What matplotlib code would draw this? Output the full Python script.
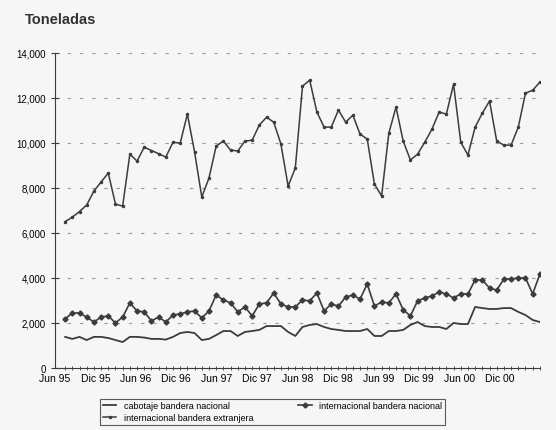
import matplotlib.pyplot as plt
import numpy as np

# meses Jun 95 - Dic 00 (67 meses)
etiquetas = ['Jun 95', 'Dic 95', 'Jun 96', 'Dic 96', 'Jun 97', 'Dic 97',
             'Jun 98', 'Dic 98', 'Jun 99', 'Dic 99', 'Jun 00', 'Dic 00']

cabotaje_nacional = [1380, 1290, 1380, 1240, 1380, 1380, 1330, 1240, 1150, 1380,
                     1380, 1350, 1290, 1290, 1260, 1380, 1550, 1600, 1550, 1240,
                     1290, 1460, 1640, 1640, 1420, 1600, 1640, 1690, 1860, 1860,
                     1860, 1600, 1420, 1820, 1910, 1950, 1820, 1730, 1690, 1640,
                     1640, 1640, 1730, 1420, 1420, 1640, 1640, 1690, 1910, 2040,
                     1860, 1820, 1820, 1730, 2000, 1950, 1950, 2710, 2660, 2620,
                     2620, 2660, 2660, 2490, 2350, 2130, 2040]

internacional_nacional = [2180, 2440, 2440, 2260, 2040, 2260, 2310, 2000, 2260, 2890,
                          2530, 2490, 2090, 2260, 2040, 2350, 2400, 2490, 2530, 2220,
                          2530, 3240, 3020, 2890, 2490, 2710, 2310, 2840, 2890, 3330,
                          2840, 2710, 2710, 3020, 2980, 3330, 2530, 2840, 2750, 3150,
                          3240, 3060, 3730, 2750, 2930, 2890, 3290, 2580, 2310, 2980,
                          3110, 3200, 3370, 3290, 3110, 3290, 3290, 3910, 3910, 3550,
                          3460, 3950, 3950, 4000, 4000, 3290, 4170]

internacional_extranjera = [6500, 6700, 6950, 7240, 7860, 8260, 8660, 7280, 7190, 9500,
                            9190, 9810, 9660, 9520, 9370, 10030, 9990, 11280, 9590, 7590,
                            8440, 9860, 10080, 9680, 9640, 10080, 10120, 10790, 11140, 10920,
                            9950, 8080, 8880, 12520, 12790, 11370, 10700, 10700, 11460, 10920,
                            11230, 10390, 10170, 8170, 7640, 10430, 11590, 10080, 9240, 9500,
                            10030, 10610, 11370, 11280, 12610, 10030, 9460, 10700, 11320, 11860,
                            10080, 9900, 9900, 10700, 12210, 12340, 12700]

plt.rcParams['font.family'] = ['Liberation Sans', 'DejaVu Sans']

meses = np.arange(len(cabotaje_nacional))
gris = '#3c3c3c'

fig = plt.figure(figsize=(5.56, 4.31), dpi=100)
fig.patch.set_facecolor('#f6f6f6')
ax = fig.add_axes([0.099, 0.144, 0.872, 0.731])
ax.set_facecolor('#f6f6f6')

l1, = ax.plot(meses, cabotaje_nacional, color=gris, lw=1.3)
l3, = ax.plot(meses, internacional_extranjera, color=gris, lw=1.1,
              marker='o', ms=1.5)
l2, = ax.plot(meses, internacional_nacional, color=gris, lw=1.2,
              marker='D', ms=2.6)

ax.set_ylim(0, 14000)
ax.set_xlim(0, len(meses) - 1)
ax.set_yticks(range(0, 14001, 2000))
ax.set_yticklabels(['0'] + [f'{v:,}' for v in range(2000, 14001, 2000)], fontsize=7)
ax.grid(axis='y', ls=(0, (3, 8)), color='#9a9a9a', lw=0.8)

# etiquetas del eje x como en el original (algo desplazadas)
ax.set_xticks(np.linspace(-1.4, 60.4, len(etiquetas)))
ax.set_xticklabels(etiquetas, fontsize=7.5)
ax.set_xticks(meses, minor=True)
ax.tick_params(axis='x', which='major', length=0, pad=4)
ax.tick_params(axis='x', which='minor', length=3, direction='inout', color=gris)
ax.tick_params(axis='y', length=6, direction='inout', color=gris)

for s in ['top', 'right']:
    ax.spines[s].set_visible(False)
ax.spines['left'].set_color(gris)
ax.spines['bottom'].set_color(gris)

fig.text(0.045, 0.945, 'Toneladas', fontsize=10.5, fontweight='bold', color='#333333')

leg = fig.legend([l1, l3, l2],
                 ['cabotaje bandera nacional', 'internacional bandera extranjera',
                  'internacional bandera nacional'],
                 loc='upper center', bbox_to_anchor=(0.49, 0.083), ncol=2,
                 fontsize=6.5, frameon=True, fancybox=False, edgecolor='#333333',
                 handlelength=1.5, columnspacing=5, borderpad=0.3,
                 labelspacing=0.3)
leg.get_frame().set_facecolor('#f6f6f6')
leg.get_frame().set_linewidth(0.8)

fig.savefig('out.png', dpi=100, facecolor=fig.get_facecolor())
